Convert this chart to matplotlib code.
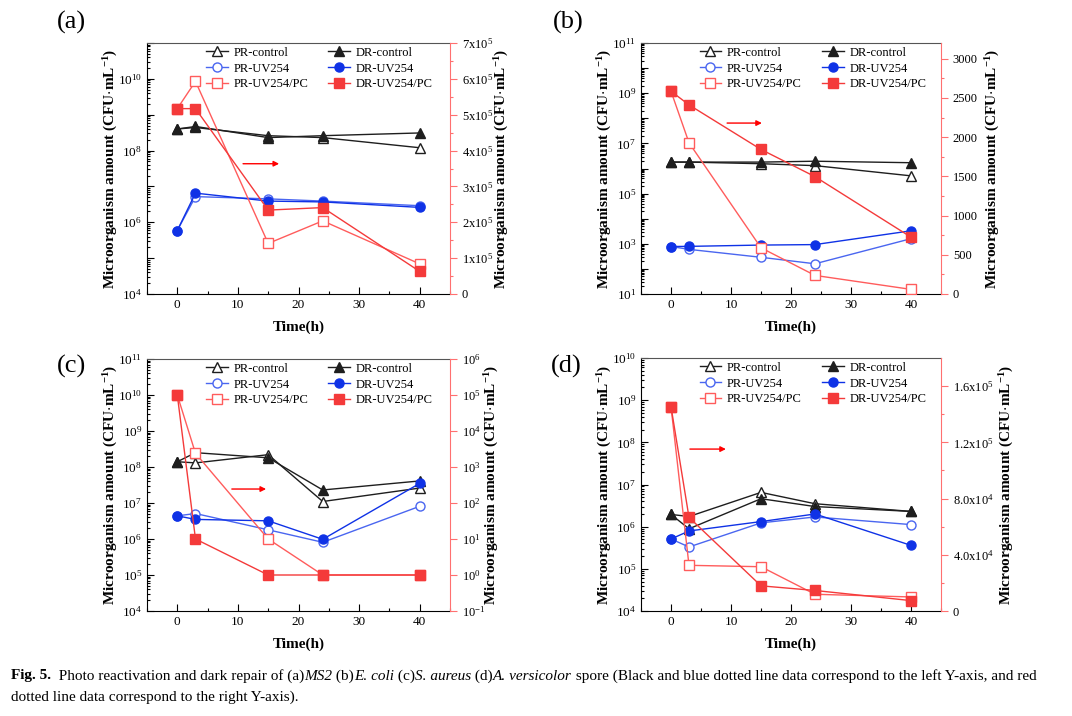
import numpy as np
import matplotlib
matplotlib.use('Agg')
import matplotlib.pyplot as plt
from matplotlib.ticker import FixedLocator, FuncFormatter, MultipleLocator, LogLocator, NullLocator

plt.rcParams['font.family'] = ['Liberation Serif', 'DejaVu Serif']
plt.rcParams['mathtext.fontset'] = 'custom'
plt.rcParams['mathtext.rm'] = 'Liberation Serif'
plt.rcParams['mathtext.it'] = 'Liberation Serif:italic'
plt.rcParams['mathtext.bf'] = 'Liberation Serif:bold'
plt.rcParams['mathtext.default'] = 'regular'

# sampling times (h)
t = [0, 3, 15, 24, 40]

# (a) MS2
pr_ctrl_a = [4.0e8, 4.4e8, 2.6e8, 2.3e8, 1.2e8]
dr_ctrl_a = [4.0e8, 4.7e8, 2.3e8, 2.6e8, 3.1e8]
pr_uv_a = [5.9e5, 5.2e6, 4.5e6, 3.9e6, 2.9e6]
dr_uv_a = [5.9e5, 6.5e6, 3.9e6, 3.7e6, 2.6e6]
pr_pc_a = [5.17e5, 5.93e5, 1.41e5, 2.04e5, 0.84e5]
dr_pc_a = [5.17e5, 5.17e5, 2.34e5, 2.41e5, 0.63e5]

# (b) E. coli
pr_ctrl_b = [1.8e6, 1.8e6, 1.55e6, 1.3e6, 5.1e5]
dr_ctrl_b = [1.8e6, 1.8e6, 1.8e6, 1.95e6, 1.7e6]
pr_uv_b = [780, 600, 290, 160, 1600]
dr_uv_b = [780, 790, 890, 930, 3300]
pr_pc_b = [2585, 1928, 589, 237, 59]
dr_pc_b = [2585, 2411, 1843, 1496, 725]

# (c) S. aureus
pr_ctrl_c = [1.4e8, 1.3e8, 2.2e8, 1.1e7, 2.6e7]
dr_ctrl_c = [1.4e8, 2.5e8, 1.8e8, 2.3e7, 4.1e7]
pr_uv_c = [4.4e6, 5.1e6, 1.8e6, 8.1e5, 8.1e6]
dr_uv_c = [4.4e6, 3.5e6, 3.2e6, 9.8e5, 3.5e7]
pr_pc_c = [1e5, 2.4e3, 10, 1, 1]
dr_pc_c = [1e5, 10, 1, 1, 1]

# (d) A. versicolor spore
pr_ctrl_d = [1.95e6, 1.74e6, 6.5e6, 3.5e6, 2.3e6]
dr_ctrl_d = [1.95e6, 8.9e5, 4.6e6, 3.0e6, 2.3e6]
pr_uv_d = [5.1e5, 3.3e5, 1.23e6, 1.7e6, 1.12e6]
dr_uv_d = [5.1e5, 7.9e5, 1.32e6, 2.0e6, 3.6e5]
pr_pc_d = [1.454e5, 3.25e4, 3.15e4, 1.19e4, 1.0e4]
dr_pc_d = [1.454e5, 6.66e4, 1.79e4, 1.46e4, 0.74e4]

BLACK = '#1e1e1e'
BLUE_D = '#0f32e6'
BLUE_P = '#4a66f0'
RED_D = '#f43a3a'
RED_P = '#ff5c5c'
SPINE_R = '#ff7070'

ylab = r'Microorganism amount (CFU$\cdot$mL$^{\mathbf{-1}}$)'


def sci(mant, exp):
    return r'$%sx10^{%d}$' % (mant, exp)


def log_fmt(odd_only=False):
    def f(v, pos):
        e = int(round(np.log10(v)))
        if odd_only and e % 2 == 0:
            return ''
        if not odd_only and e % 2 == 1 and v > 1e3:
            return ''
        return r'$10^{%d}$' % e
    return f


def panel(rect, left, right, left_lim, right_lim, right_log, right_ticks,
          right_minor, right_labels, left_fmt, arrow, label_x):
    ax = fig.add_axes(rect)
    ax2 = ax.twinx()
    ms = 6.5
    lw = 1.0
    h1, = ax.plot(t, left[0], '-^', color=BLACK, mfc='white', mec=BLACK, ms=ms, lw=lw, label='PR-control')
    h2, = ax.plot(t, left[1], '-^', color=BLACK, mfc=BLACK, mec=BLACK, ms=ms, lw=lw, label='DR-control')
    h3, = ax.plot(t, left[2], '-o', color=BLUE_P, mfc='white', mec=BLUE_P, ms=ms, lw=lw, label='PR-UV254')
    h4, = ax.plot(t, left[3], '-o', color=BLUE_D, mfc=BLUE_D, mec=BLUE_D, ms=ms, lw=lw, label='DR-UV254')
    h5, = ax2.plot(t, right[0], '-s', color=RED_P, mfc='white', mec=RED_P, ms=ms, lw=lw, label='PR-UV254/PC')
    h6, = ax2.plot(t, right[1], '-s', color=RED_D, mfc=RED_D, mec=RED_D, ms=ms, lw=lw, label='DR-UV254/PC')

    ax.set_yscale('log')
    ax.set_ylim(*left_lim)
    ax.set_xlim(-5, 45)
    ax.xaxis.set_major_locator(MultipleLocator(10))
    ax.xaxis.set_minor_locator(MultipleLocator(5))
    ax.yaxis.set_major_locator(LogLocator(base=10, numticks=20))
    ax.yaxis.set_minor_locator(LogLocator(base=10, subs=np.arange(2, 10), numticks=20))
    ax.yaxis.set_major_formatter(FuncFormatter(left_fmt))
    ax.tick_params(axis='both', which='both', direction='in', labelsize=9.5, width=0.8)
    ax.tick_params(which='major', length=5)
    ax.tick_params(which='minor', length=2.5)
    ax.tick_params(axis='x', which='both', top=False)
    ax.spines['top'].set_color('#555555')
    ax.spines['right'].set_visible(False)

    if right_log:
        ax2.set_yscale('log')
    ax2.set_ylim(*right_lim)
    ax2.yaxis.set_major_locator(FixedLocator(right_ticks))
    if right_minor is not None:
        ax2.yaxis.set_minor_locator(FixedLocator(right_minor))
    else:
        ax2.yaxis.set_minor_locator(NullLocator())
    ax2.set_yticklabels(right_labels)
    ax2.tick_params(axis='y', which='both', direction='out', colors=SPINE_R, labelcolor='black',
                    labelsize=9, width=0.8)
    ax2.tick_params(which='major', length=5)
    ax2.tick_params(which='minor', length=2.5)
    for s in ['left', 'top', 'bottom']:
        ax2.spines[s].set_visible(False)
    ax2.spines['right'].set_color(SPINE_R)

    ax.set_xlabel('Time(h)', fontsize=11, fontweight='bold')
    ax.xaxis.set_label_coords(0.5, -0.105)
    ax.set_ylabel(ylab, fontsize=11, fontweight='bold')
    ax.yaxis.set_label_coords(-0.09, 0.5)
    ax2.set_ylabel(ylab, fontsize=11, fontweight='bold')
    ax2.yaxis.set_label_coords(label_x, 0.5)

    ax.legend([h1, h3, h5, h2, h4, h6],
              ['PR-control', 'PR-UV254', 'PR-UV254/PC', 'DR-control', 'DR-UV254', 'DR-UV254/PC'],
              ncol=2, loc='upper left', bbox_to_anchor=(0.195, 0.985), frameon=False,
              fontsize=9, handlelength=1.75, handletextpad=0.45, columnspacing=1.6,
              labelspacing=0.3, borderpad=0, borderaxespad=0)
    ax2.annotate('', xy=(arrow[1], arrow[2]), xytext=(arrow[0], arrow[2]),
                 xycoords='axes fraction', textcoords='axes fraction',
                 arrowprops=dict(arrowstyle='-|>', color='red', lw=1.0, mutation_scale=8,
                                 shrinkA=0, shrinkB=0))
    return ax, ax2


fig = plt.figure(figsize=(10.72, 7.16), dpi=100)
W, H = 1072.0, 716.0


def rect(l, r, top, bot):
    return [l / W, 1 - bot / H, (r - l) / W, (bot - top) / H]


panel(rect(147, 450, 43, 294),
      [pr_ctrl_a, dr_ctrl_a, pr_uv_a, dr_uv_a], [pr_pc_a, dr_pc_a],
      (1e4, 1e11), (0, 7e5), False,
      [i * 1e5 for i in range(8)], [i * 1e5 + 5e4 for i in range(7)],
      ['0'] + [sci(str(i), 5) for i in range(1, 8)],
      log_fmt(False), (0.317, 0.436, 0.519), 1.142)

panel(rect(641, 941, 43, 294),
      [pr_ctrl_b, dr_ctrl_b, pr_uv_b, dr_uv_b], [pr_pc_b, dr_pc_b],
      (1e1, 1e11), (0, 3200), False,
      list(range(0, 3001, 500)), list(range(250, 3200, 500)),
      [str(v) for v in range(0, 3001, 500)],
      log_fmt(True), (0.287, 0.403, 0.681), 1.143)

panel(rect(147, 450, 359, 611),
      [pr_ctrl_c, dr_ctrl_c, pr_uv_c, dr_uv_c], [pr_pc_c, dr_pc_c],
      (1e4, 1e11), (1e-1, 1e6), True,
      [10.0 ** e for e in range(-1, 7)], None,
      [r'$10^{%d}$' % e for e in range(-1, 7)],
      lambda v, pos: r'$10^{%d}$' % int(round(np.log10(v))), (0.28, 0.393, 0.484), 1.109)

panel(rect(641, 941, 358, 611),
      [pr_ctrl_d, dr_ctrl_d, pr_uv_d, dr_uv_d], [pr_pc_d, dr_pc_d],
      (1e4, 1e10), (0, 1.8e5), False,
      [0, 4e4, 8e4, 1.2e5, 1.6e5], [2e4, 6e4, 1e5, 1.4e5],
      ['0', sci('4.0', 4), sci('8.0', 4), sci('1.2', 5), sci('1.6', 5)],
      lambda v, pos: r'$10^{%d}$' % int(round(np.log10(v))), (0.163, 0.283, 0.64), 1.19)

for lab, x, y in [('(a)', 71, 22), ('(b)', 568, 22), ('(c)', 71, 366), ('(d)', 566, 366)]:
    fig.text(x / W, 1 - y / H, lab, fontsize=19, ha='center', va='center')

# caption, written run by run so the italic names sit inline
cap_line1 = [('Fig. 5.', 'normal', 'bold'),
             ('  Photo reactivation and dark repair of (a)', 'normal', 'normal'),
             ('MS2', 'italic', 'normal'), (' (b)', 'normal', 'normal'),
             ('E. coli', 'italic', 'normal'), (' (c)', 'normal', 'normal'),
             ('S. aureus', 'italic', 'normal'), (' (d)', 'normal', 'normal'),
             ('A. versicolor', 'italic', 'normal'),
             (' spore (Black and blue dotted line data correspond to the left Y-axis, and red',
              'normal', 'normal')]
cap_line2 = [('dotted line data correspond to the right Y-axis).', 'normal', 'normal')]

renderer = fig.canvas.get_renderer()
cap_fs = 11.0
for runs, y in [(cap_line1, 676), (cap_line2, 697)]:
    x = 11.0
    for s, st, wt in runs:
        tx = fig.text(x / W, 1 - y / H, s, fontsize=cap_fs, style=st, weight=wt,
                      ha='left', va='center')
        x += tx.get_window_extent(renderer=renderer).width

fig.savefig('out.png', dpi=100)
